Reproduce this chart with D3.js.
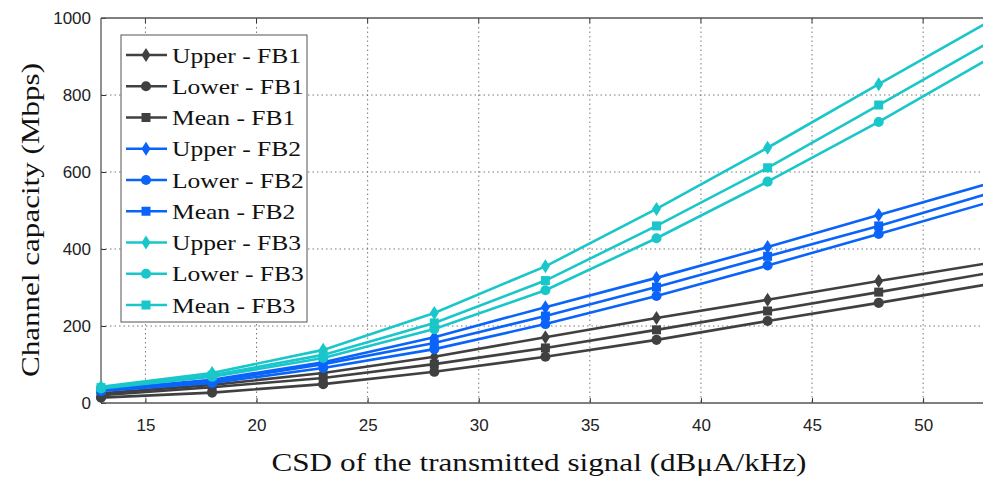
<!DOCTYPE html>
<html><head><meta charset="utf-8">
<script src="https://cdn.jsdelivr.net/npm/d3@7"></script>
<style>body{margin:0;background:#fff}svg{display:block}</style>
</head><body>
<svg id="c" width="983" height="477"></svg>
<script>
const xValues = [13, 18, 23, 28, 33, 38, 43, 48, 53];
const upperFB1 = [25, 47, 78, 120, 171, 221, 268, 317, 364];
const lowerFB1 = [14, 27, 49, 81, 120, 164, 213, 260, 309];
const meanFB1  = [20, 41, 65, 101, 143, 190, 239, 288, 338];
const upperFB2 = [35, 60, 106, 171, 249, 325, 405, 488, 571];
const lowerFB2 = [31, 52, 91, 140, 205, 278, 357, 439, 522];
const meanFB2  = [33, 56, 101, 156, 226, 301, 381, 460, 545];
const upperFB3 = [42, 78, 138, 234, 355, 504, 663, 828, 992];
const lowerFB3 = [38, 68, 117, 192, 293, 428, 575, 730, 896];
const meanFB3  = [40, 72, 125, 208, 318, 460, 611, 774, 938];
const seriesNames = ["Upper - FB1","Lower - FB1","Mean - FB1","Upper - FB2","Lower - FB2","Mean - FB2","Upper - FB3","Lower - FB3","Mean - FB3"];
const xTicks = [15, 20, 25, 30, 35, 40, 45, 50];
const yTicks = [0, 200, 400, 600, 800, 1000];
const xLabel = "CSD of the transmitted signal (dB\u03BCA/kHz)";
const yLabel = "Channel capacity (Mbps)";

const seriesData = [upperFB1, lowerFB1, meanFB1, upperFB2, lowerFB2, meanFB2, upperFB3, lowerFB3, meanFB3];
const colors = ["#404040", "#0a64fa", "#19c6c9"];
const shapes = ["diamond", "circle", "square"];

const svg = d3.select("#c");
const L = 101, T = 18, B = 403;
const x = d3.scaleLinear().domain([13, 53]).range([L, L + 40 * 22.22]);
const y = d3.scaleLinear().domain([0, 1000]).range([B, T]);
const W = 983;

const g = svg.append("g");
// grid
g.selectAll(".vg").data(xTicks).join("line")
  .attr("x1", d => x(d)).attr("x2", d => x(d)).attr("y1", T).attr("y2", B)
  .attr("stroke", "#555").attr("stroke-width", 0.8).attr("stroke-dasharray", "1.5,3");
g.selectAll(".hg").data(yTicks.filter(d => d > 0 && d < 1000)).join("line")
  .attr("y1", d => y(d)).attr("y2", d => y(d)).attr("x1", L).attr("x2", W)
  .attr("stroke", "#555").attr("stroke-width", 0.8).attr("stroke-dasharray", "1.5,3");

// axes
const xAxis = d3.axisBottom(x).tickValues(xTicks).tickSize(-5).tickPadding(16);
const yAxis = d3.axisLeft(y).tickValues(yTicks).tickFormat(d3.format("d")).tickSize(-5).tickPadding(10);
const gx = svg.append("g").attr("transform", `translate(0,${B})`).call(xAxis);
const gy = svg.append("g").attr("transform", `translate(${L},0)`).call(yAxis);
[gx, gy].forEach(a => {
  a.select(".domain").remove();
  a.selectAll(".tick line").attr("stroke", "#333");
  a.selectAll("text").attr("font-family", "Liberation Sans, Arial, sans-serif")
    .attr("font-size", 17).attr("fill", "#222");
});
// top tick marks
svg.selectAll(".tt").data(xTicks).join("line")
  .attr("x1", d => x(d)).attr("x2", d => x(d)).attr("y1", T).attr("y2", T + 5)
  .attr("stroke", "#333");
// box lines
svg.append("line").attr("x1", L).attr("x2", W).attr("y1", B).attr("y2", B).attr("stroke", "#555").attr("stroke-width", 1.3);
svg.append("line").attr("x1", L).attr("x2", W).attr("y1", T).attr("y2", T).attr("stroke", "#555").attr("stroke-width", 1.3);
svg.append("line").attr("x1", L).attr("x2", L).attr("y1", T).attr("y2", B).attr("stroke", "#555").attr("stroke-width", 1.3);

function markerPath(shape) {
  if (shape === "diamond") return "M0,-7L4.5,0L0,7L-4.5,0Z";
  if (shape === "square") return "M-4.5,-4.5H4.5V4.5H-4.5Z";
  return d3.symbol(d3.symbolCircle, 80)();
}

const line = d3.line().x((d, i) => x(xValues[i])).y(d => y(d));
const plot = svg.append("g");
seriesData.forEach((vals, k) => {
  const col = colors[Math.floor(k / 3)];
  const shp = shapes[k % 3];
  plot.append("path").datum(vals).attr("d", line)
    .attr("fill", "none").attr("stroke", col).attr("stroke-width", 2.6);
  plot.selectAll(null).data(vals).join("path")
    .attr("transform", (d, i) => `translate(${x(xValues[i])},${y(d)})`)
    .attr("d", markerPath(shp)).attr("fill", col);
});

// legend
const lg = svg.append("g");
const lx = 121, ly = 35, lw = 186, lh = 287;
lg.append("rect").attr("x", lx).attr("y", ly).attr("width", lw).attr("height", lh)
  .attr("fill", "#fff").attr("stroke", "#555").attr("stroke-width", 1);
seriesNames.forEach((name, k) => {
  const col = colors[Math.floor(k / 3)];
  const yy = 55 + k * 31.25;
  lg.append("line").attr("x1", 126).attr("x2", 167).attr("y1", yy).attr("y2", yy)
    .attr("stroke", col).attr("stroke-width", 2.6);
  lg.append("path").attr("transform", `translate(146,${yy})`).attr("d", markerPath(shapes[k % 3])).attr("fill", col);
  const t = lg.append("text").attr("x", 172).attr("y", yy).attr("dy", "0.35em")
    .attr("font-family", "Liberation Serif, serif").attr("font-size", 22).attr("fill", "#111")
    .text(name);
  const len = t.node().getComputedTextLength();
  t.attr("textLength", len * 1.16).attr("lengthAdjust", "spacingAndGlyphs");
});

// axis labels
svg.append("text").attr("x", 539).attr("y", 471)
  .attr("text-anchor", "middle").attr("font-family", "Liberation Serif, serif")
  .attr("font-size", 26).attr("fill", "#111")
  .attr("textLength", 535).attr("lengthAdjust", "spacingAndGlyphs").text(xLabel);
svg.append("text").attr("transform", "translate(39,220) rotate(-90)")
  .attr("text-anchor", "middle").attr("font-family", "Liberation Serif, serif")
  .attr("font-size", 26).attr("fill", "#111")
  .attr("textLength", 314).attr("lengthAdjust", "spacingAndGlyphs").text(yLabel);
</script>
</body></html>
